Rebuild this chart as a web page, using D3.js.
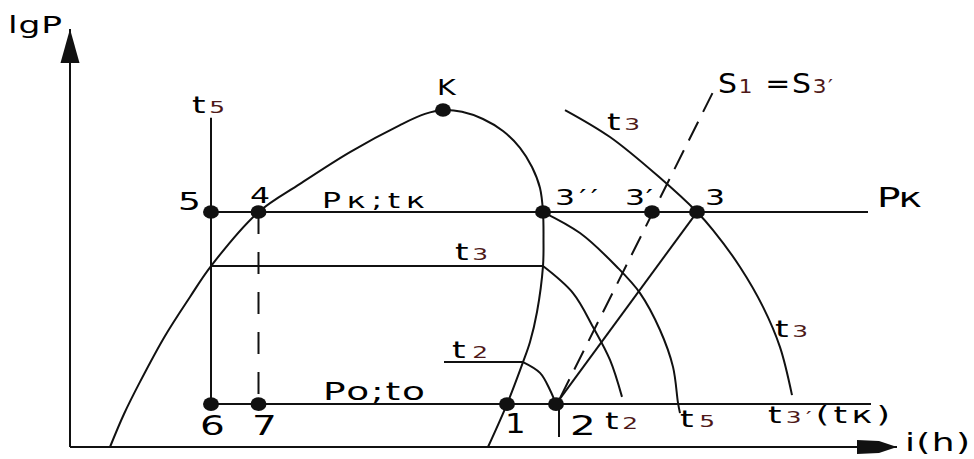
<!DOCTYPE html>
<html>
<head>
<meta charset="utf-8">
<script src="https://cdn.jsdelivr.net/npm/d3@7"></script>
<style>
  html, body { margin: 0; padding: 0; background: #fff; }
  svg { display: block; }
  text { font-family: "DejaVu Sans", sans-serif; fill: #000; }
</style>
</head>
<body>
<svg id="chart" width="974" height="459"></svg>
<script>
// ---- Diagram data (enthalpy h, log-pressure lgP; arbitrary units) ----
const hExtent = [0, 165.4];
const pExtent = [0, 139.3];

// pressure levels
const pK  = 78.3;   // condensing pressure Pк
const p0  = 14.3;   // evaporating pressure Po
const pT3 = 60.3;   // t3 isotherm inside the wet region
const pT2 = 28.3;   // t2 isotherm inside the wet region

// saturation dome: liquid branch -> critical point K -> vapour branch
const domeH = [8.0, 10.8, 14.0, 19.0, 24.0, 28.2, 37.7, 46.0, 56.0, 66.0, 71.0, 74.6,
               78.4, 82.6, 86.6, 90.0, 92.4, 94.0, 94.6, 94.7, 94.6, 93.4, 92.0, 90.6, 87.4, 83.6];
const domeP = [0, 11.0, 21.7, 37.0, 50.0, 60.3, 78.3, 87.7, 98.3, 107.3, 111.0, 112.3,
               111.7, 109.3, 105.3, 99.7, 93.3, 86.3, 78.3, 69.0, 60.3, 45.0, 35.0, 28.3, 14.3, 0];

// isotherm t3 in the superheated region (through state 3)
const isoT3H = [99.0, 108.0, 118.0, 125.4, 128.6, 134.0, 138.6, 142.0, 144.4];
const isoT3P = [112.3, 103.3, 89.7, 78.3, 72.3, 60.0, 46.7, 33.3, 17.3];

// isotherm leaving the dome at 3''
const isoT5H = [94.6, 102.0, 109.4, 114.0, 118.0, 120.6, 121.6, 122.0];
const isoT5P = [78.3, 71.3, 60.0, 51.3, 39.0, 26.7, 14.7, 11.3];

// isotherm leaving the dome at the t3 level
const isoT2H = [94.6, 100.6, 104.6, 108.0, 110.4];
const isoT2P = [60.3, 51.3, 40.0, 29.0, 16.7];

// short isotherm t2 from the vapour line down to state 2
const isoSmallH = [90.6, 94.0, 96.0, 97.2];
const isoSmallP = [28.3, 24.7, 19.0, 14.3];

// cycle states
const stateName = ["1", "2", "3", "3′", "3′′", "4", "5", "6", "7", "K"];
const stateH = [87.4, 97.2, 125.4, 116.4, 94.6, 37.7, 28.2, 28.2, 37.7, 74.6];
const stateP = [p0, p0, pK, pK, pK, pK, pK, p0, p0, 112.3];

// other straight elements
const hLeft = 28.2;          // vertical t5 line (states 5 and 6)
const t5Top = 109.7;
const hPkEnd = 159.6;        // end of the Pк isobar
const hPoEnd = 160.2;        // end of the Po isobar
const hT2Start = 74.8;       // start of the t2 level line
const isentropeH = [98.0, 128.6];   // S1 = S3'
const isentropeP = [16.3, 118.3];
const tick2H = 97.8, tick2P = [13.0, 3.3];

// ---- Scales ----
const x = d3.scaleLinear().domain(hExtent).range([70, 897]);
const y = d3.scaleLinear().domain(pExtent).range([447, 29]);

const svg = d3.select("#chart");
const ink = "#111";

const zip = (hs, ps) => hs.map((h, i) => [h, ps[i]]);
const curve = d3.line().x(d => x(d[0])).y(d => y(d[1])).curve(d3.curveCatmullRom.alpha(0.5));
const straight = d3.line().x(d => x(d[0])).y(d => y(d[1]));

// arrowheads
const defs = svg.append("defs");
defs.append("marker").attr("id", "arrY")
  .attr("markerUnits", "userSpaceOnUse").attr("orient", "auto")
  .attr("viewBox", "-35 -10 36 20").attr("markerWidth", 36).attr("markerHeight", 20)
  .attr("refX", 0).attr("refY", 0)
  .append("path").attr("d", "M-34,-9.5 L0,0 L-34,9.5 Z").attr("fill", ink);
defs.append("marker").attr("id", "arrX")
  .attr("markerUnits", "userSpaceOnUse").attr("orient", "auto")
  .attr("viewBox", "-41 -8 42 16").attr("markerWidth", 42).attr("markerHeight", 16)
  .attr("refX", 0).attr("refY", 0)
  .append("path").attr("d", "M-40,-7 L-18,-6 L0,0 L-18,6 L-40,7 Z").attr("fill", ink);

const lines = svg.append("g").attr("fill", "none").attr("stroke", ink).attr("stroke-width", 2);

// axes
lines.append("path").attr("d", straight([[0, 0], [0, pExtent[1]]])).attr("marker-end", "url(#arrY)");
lines.append("path").attr("d", straight([[0, 0], [hExtent[1], 0]])).attr("marker-end", "url(#arrX)");

// saturation dome and isotherms
lines.append("path").attr("d", curve(zip(domeH, domeP)));
lines.append("path").attr("d", curve(zip(isoT3H, isoT3P)));
lines.append("path").attr("d", curve(zip(isoT5H, isoT5P)));
lines.append("path").attr("d", curve(zip(isoT2H, isoT2P)));
lines.append("path").attr("d", curve(zip(isoSmallH, isoSmallP)));

// isobars and level lines
lines.append("path").attr("d", straight([[hLeft, pK], [hPkEnd, pK]]));
lines.append("path").attr("d", straight([[hLeft, p0], [hPoEnd, p0]]));
lines.append("path").attr("d", straight([[hLeft, pT3], [domeH[20], pT3]]));
lines.append("path").attr("d", straight([[hT2Start, pT2], [isoSmallH[0], pT2]]));
lines.append("path").attr("d", straight([[hLeft, p0], [hLeft, t5Top]]));

// throttling 4-7 (dashed), compression 2-3, isentrope S1 = S3'
lines.append("path").attr("d", straight([[stateH[5], pK], [stateH[8], p0]]))
  .attr("stroke-dasharray", "22,18");
lines.append("path").attr("d", straight([[stateH[1], p0], [stateH[2], pK]]));
lines.append("path").attr("d", straight(zip(isentropeH, isentropeP)))
  .attr("stroke-dasharray", "21,11");
lines.append("path").attr("d", straight([[tick2H, tick2P[0]], [tick2H, tick2P[1]]]));

// state dots
svg.append("g").selectAll("ellipse")
  .data(stateName.map((n, i) => ({ n, h: stateH[i], p: stateP[i] })))
  .join("ellipse")
  .attr("cx", d => x(d.h)).attr("cy", d => y(d.p))
  .attr("rx", 8).attr("ry", 6.8).attr("fill", ink);

// ---- Labels (parts flagged 1 are small index digits) ----
const labels = [
  { parts: [["lgP"]], h: -12.4, p: 138.0, w: 54, fs: 23 },
  { parts: [["t"], ["5", 1]], h: 24.4, p: 111.3, w: 33, fs: 23 },
  { parts: [["K"]], h: 73.4, p: 117.3, w: 19, fs: 22, sx: 1.3 },
  { parts: [["5"]], h: 21.6, p: 79.0, w: 19, fs: 24 },
  { parts: [["4"]], h: 36.0, p: 81.3, w: 17, fs: 21 },
  { parts: [["Pк;tк"]], h: 50.4, p: 79.7, w: 103, fs: 21 },
  { parts: [["3′′"]], h: 97.0, p: 80.7, w: 43, fs: 21 },
  { parts: [["3′"]], h: 111.0, p: 80.7, w: 28, fs: 21 },
  { parts: [["3"]], h: 127.0, p: 80.7, w: 20, fs: 21 },
  { parts: [["Pк"]], h: 161.4, p: 80.0, w: 45, fs: 26 },
  { parts: [["t"], ["3", 1]], h: 107.4, p: 105.7, w: 33, fs: 23 },
  { parts: [["S"], ["1", 1], [" =S"], ["3′", 1]], h: 129.6, p: 118.0, w: 115, fs: 26, sx: 1.15 },
  { parts: [["t"], ["3", 1]], h: 77.0, p: 62.3, w: 33, fs: 23 },
  { parts: [["t"], ["2", 1]], h: 76.4, p: 29.7, w: 36, fs: 23 },
  { parts: [["Po;to"]], h: 50.6, p: 15.7, w: 102, fs: 25 },
  { parts: [["6"]], h: 26.0, p: 4.0, w: 20, fs: 26 },
  { parts: [["7"]], h: 36.4, p: 4.0, w: 18, fs: 26 },
  { parts: [["1"]], h: 87.0, p: 4.7, w: 10, fs: 27, sx: 1.2 },
  { parts: [["2"]], h: 100.0, p: 4.0, w: 18, fs: 27 },
  { parts: [["t"], ["2", 1]], h: 107.0, p: 6.0, w: 33, fs: 23 },
  { parts: [["t"], ["5", 1]], h: 122.0, p: 6.5, w: 35, fs: 23 },
  { parts: [["t"], ["3′", 1], ["(tк)"]], h: 139.6, p: 8.0, w: 122, fs: 23 },
  { parts: [["t"], ["3", 1]], h: 141.0, p: 36.7, w: 33, fs: 23 },
  { parts: [["i(h)"]], h: 167.0, p: -1.3, w: 65, fs: 24 }
];

const labelLayer = svg.append("g");
labels.forEach(a => {
  const sx = a.sx || 1.5;
  const g = labelLayer.append("g")
    .attr("transform", `translate(${x(a.h)},${y(a.p)}) scale(${sx},1)`);
  const t = g.append("text").attr("font-size", a.fs);
  a.parts.forEach(([s, sub]) => {
    const ts = t.append("tspan").text(s);
    if (sub) ts.attr("font-size", a.fs * 0.72).attr("fill", "#4e1818");
  });
  const chars = a.parts.map(p => p[0]).join("");
  if (chars.length > 1) t.attr("textLength", a.w / sx).attr("lengthAdjust", "spacing");
});
</script>
</body>
</html>
